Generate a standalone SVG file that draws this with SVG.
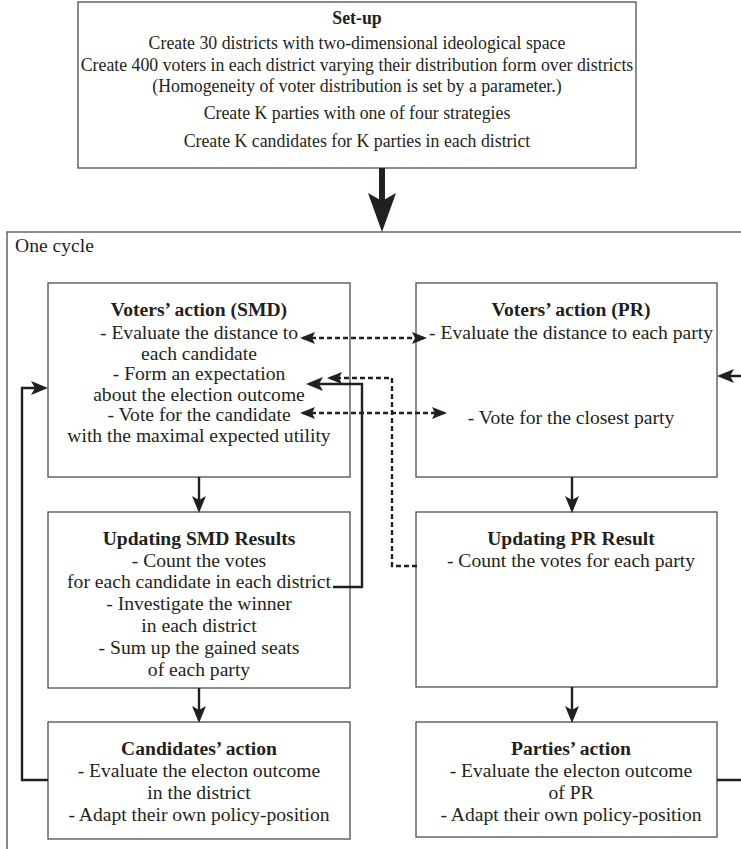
<svg xmlns="http://www.w3.org/2000/svg" width="741" height="849" viewBox="0 0 741 849">
<style>
  text { font-family: "Liberation Serif", "Times New Roman", serif; font-size: 19.6px; fill: #231f20; }
  .t { text-anchor: middle; }
  .b { font-weight: bold; }
  .s { font-size: 17.8px; }
  .box { fill: #ffffff; stroke: #4d4d4d; stroke-width: 1.3; }
  .solid { fill: none; stroke: #231f20; stroke-width: 2.4; }
  .dash { fill: none; stroke: #231f20; stroke-width: 2.4; stroke-dasharray: 5 3; }
</style>
<defs>
  <marker id="ah" markerUnits="userSpaceOnUse" markerWidth="18" markerHeight="16" refX="13" refY="8" orient="auto">
    <path d="M0,1 L17,8 L0,15 L4,8 Z" fill="#231f20"/>
  </marker>
  <marker id="dh" markerUnits="userSpaceOnUse" markerWidth="16" markerHeight="14" refX="12" refY="7" orient="auto-start-reverse">
    <path d="M0,1 L15,7 L0,13 L3,7 Z" fill="#231f20"/>
  </marker>
</defs>
<rect width="741" height="849" fill="#ffffff"/>

<g id="setup">
  <rect class="box" x="78" y="2" width="558" height="166"/>
  <text class="t b s" x="357" y="24">Set-up</text>
  <text class="t s" x="357" y="49">Create 30 districts with two-dimensional ideological space</text>
  <text class="t s" x="357" y="71">Create 400 voters in each district varying their distribution form over districts</text>
  <text class="t s" x="357" y="92">(Homogeneity of voter distribution is set by a parameter.)</text>
  <text class="t s" x="357" y="119">Create K parties with one of four strategies</text>
  <text class="t s" x="357" y="147">Create K candidates for K parties in each district</text>
</g>

<g id="cycle">
  <rect class="box" x="7" y="232" width="800" height="700"/>
  <text x="15" y="252">One cycle</text>
</g>

<g id="voters-smd">
  <rect class="box" x="48" y="283" width="302" height="194"/>
  <text class="t b" x="199" y="316">Voters’ action (SMD)</text>
  <text class="t" x="199" y="339">- Evaluate the distance to</text>
  <text class="t" x="199" y="359.5">each candidate</text>
  <text class="t" x="199" y="380">- Form an expectation</text>
  <text class="t" x="199" y="400.5">about the election outcome</text>
  <text class="t" x="199" y="421">- Vote for the candidate</text>
  <text class="t" x="199" y="441.5">with the maximal expected utility</text>
</g>

<g id="voters-pr">
  <rect class="box" x="416" y="283" width="301" height="194"/>
  <text class="t b" x="571" y="316">Voters’ action (PR)</text>
  <text class="t" x="571" y="339">- Evaluate the distance to each party</text>
  <text class="t" x="571" y="424">- Vote for the closest party</text>
</g>

<g id="updating-smd">
  <rect class="box" x="48" y="512" width="302" height="176"/>
  <text class="t b" x="199" y="545">Updating SMD Results</text>
  <text class="t" x="199" y="567">- Count the votes</text>
  <text class="t" x="199" y="588">for each candidate in each district</text>
  <text class="t" x="199" y="610">- Investigate the winner</text>
  <text class="t" x="199" y="632">in each district</text>
  <text class="t" x="199" y="654">- Sum up the gained seats</text>
  <text class="t" x="199" y="676">of each party</text>
</g>

<g id="updating-pr">
  <rect class="box" x="416" y="512" width="301" height="175"/>
  <text class="t b" x="571" y="545">Updating PR Result</text>
  <text class="t" x="571" y="567">- Count the votes for each party</text>
</g>

<g id="candidates">
  <rect class="box" x="48" y="722" width="302" height="117"/>
  <text class="t b" x="199" y="755">Candidates’ action</text>
  <text class="t" x="199" y="777">- Evaluate the electon outcome</text>
  <text class="t" x="199" y="799">in the district</text>
  <text class="t" x="199" y="821">- Adapt their own policy-position</text>
</g>

<g id="parties">
  <rect class="box" x="416" y="722" width="301" height="115"/>
  <text class="t b" x="571" y="755">Parties’ action</text>
  <text class="t" x="571" y="777">- Evaluate the electon outcome</text>
  <text class="t" x="571" y="799">of PR</text>
  <text class="t" x="571" y="821">- Adapt their own policy-position</text>
</g>

<g id="connectors">
  <rect x="379" y="168" width="6" height="34" fill="#231f20"/>
  <path d="M368,193 L382,201 L396,193 L382,232 Z" fill="#231f20"/>
  <path class="solid" d="M199,477 V509" marker-end="url(#ah)"/>
  <path class="solid" d="M199,688 V719" marker-end="url(#ah)"/>
  <path class="solid" d="M572,477 V509" marker-end="url(#ah)"/>
  <path class="solid" d="M572,687 V719" marker-end="url(#ah)"/>
  <path class="solid" d="M48,780 H22 V388 H44" marker-end="url(#ah)"/>
  <path class="solid" d="M717,780 H760 V376 H721" marker-end="url(#ah)"/>
  <path class="solid" d="M333,587 H362 V384 H310" marker-end="url(#ah)"/>
  <path class="dash" d="M417,566 H392 V378 H330" marker-end="url(#dh)"/>
  <path class="dash" d="M303,338 H424" marker-start="url(#dh)" marker-end="url(#dh)"/>
  <path class="dash" d="M303,413 H444" marker-start="url(#dh)" marker-end="url(#dh)"/>
</g>
</svg>
